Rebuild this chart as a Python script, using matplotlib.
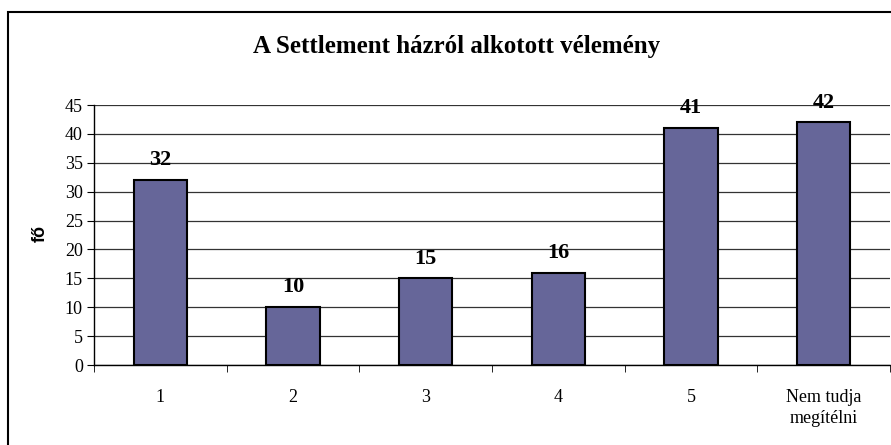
import matplotlib
matplotlib.use("Agg")
import matplotlib.pyplot as plt
from matplotlib.patches import Rectangle

categories = ["1", "2", "3", "4", "5", "Nem tudja\nmegítélni"]
values = [32, 10, 15, 16, 41, 42]
yticks = [0, 5, 10, 15, 20, 25, 30, 35, 40, 45]
title = "A Settlement házról alkotott vélemény"
ylabel = "fő"

W, H = 891, 445
fig = plt.figure(figsize=(W / 100, H / 100), dpi=100)
serif = ["Liberation Serif", "DejaVu Serif"]

# outer chart border
fig.patches.append(Rectangle((8 / W, -0.1), 1.2, 1 - 12 / H + 0.1,
                             transform=fig.transFigure, fill=False,
                             edgecolor="black", linewidth=1.5))

left, right = 94 / W, 890 / W
bottom, top = 1 - 365 / H, 1 - 105 / H
ax = fig.add_axes([left, bottom, right - left, top - bottom])

x = list(range(len(categories)))
ax.bar(x, values, width=0.4, color="#666699", edgecolor="black", linewidth=1.5, zorder=3)
ax.set_xlim(-0.5, len(categories) - 0.5)
ax.set_ylim(0, 45)
ax.set_yticks(yticks)
ax.set_yticklabels([str(t) for t in yticks], fontfamily=serif, fontsize=13)
ax.yaxis.grid(True, color="#333333", linewidth=0.9, zorder=0)
ax.set_axisbelow(True)

ax.set_xticks(x)
ax.set_xticklabels(categories, fontfamily=serif, fontsize=13, linespacing=1.35)
ax.set_xticks([i - 0.5 for i in range(len(categories) + 1)], minor=True)
ax.tick_params(axis="x", which="major", length=0, pad=17)
ax.tick_params(axis="x", which="minor", length=5, direction="out", color="black")
ax.tick_params(axis="y", length=5, direction="out", color="black", pad=3)

for s in ["top", "right"]:
    ax.spines[s].set_visible(False)
ax.spines["left"].set_linewidth(1.0)
ax.spines["bottom"].set_linewidth(1.0)

for xi, v in zip(x, values):
    ax.annotate(str(v), (xi, v), xytext=(0, 7), textcoords="offset points",
                ha="center", va="bottom", fontfamily=serif, fontweight="bold",
                fontsize=16)

fig.text(457 / W, 1 - 46 / H, title, ha="center", va="center", fontfamily=serif,
         fontweight="bold", fontsize=18)
fig.text(40 / W, 1 - 234 / H, ylabel, ha="center", va="center", rotation=90,
         fontfamily=["Liberation Sans", "DejaVu Sans"], fontweight="bold", fontsize=13)

fig.savefig("out.png", dpi=100)
